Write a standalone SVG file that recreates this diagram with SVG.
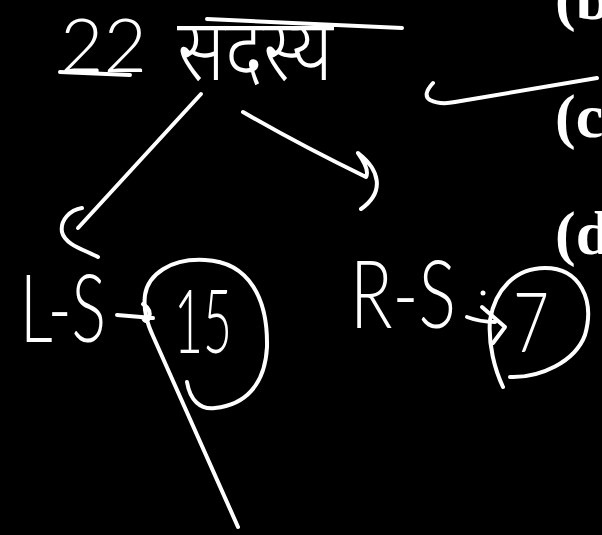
<svg xmlns="http://www.w3.org/2000/svg" width="602" height="535" viewBox="0 0 602 535">
<style>
.ink{fill:none;stroke:#fff;stroke-width:4;stroke-linecap:round;stroke-linejoin:round}
.hw{fill:#fff;font-family:"Lato","Open Sans","DejaVu Sans",sans-serif;font-weight:300}
.dv{fill:#fff;font-family:"Noto Sans Devanagari","Noto Sans","Lato",sans-serif;font-weight:300}
.pr{fill:#fff;font-family:"Liberation Serif","Times New Roman",serif;font-weight:bold;font-size:62px}
</style>
<rect width="602" height="535" fill="#000"/>
<g id="printed">
<text class="pr" x="555" y="19">(b</text>
<text class="pr" x="555" y="137">(c</text>
<text class="pr" x="555" y="254">(d</text>
</g>
<g id="root">
<text class="hw" x="60" y="72" font-size="74" textLength="87" lengthAdjust="spacingAndGlyphs">22</text>
<text class="dv" x="177" y="80" font-size="86" textLength="156" lengthAdjust="spacingAndGlyphs">सदस्य</text>
<path class="ink" d="M60,72 L130,75"/>
<path class="ink" d="M207,19 L402,28"/>
</g>
<g id="left">
<text class="hw" x="20" y="342" font-size="94" textLength="86" lengthAdjust="spacingAndGlyphs">L-S</text>
<text class="hw" x="174" y="353" font-size="88" textLength="58" lengthAdjust="spacingAndGlyphs">15</text>
<path class="ink" d="M187,382 C190,400 200,410 215,408 C245,405 265,385 267,347 C268,300 250,262 205,260 C170,258 148,275 145,295 C143,312 148,325 153,336 L238,527"/>
</g>
<g id="right">
<text class="hw" x="350" y="328" font-size="95" textLength="106" lengthAdjust="spacingAndGlyphs">R-S</text>
<text class="hw" x="513" y="352" font-size="82" textLength="36" lengthAdjust="spacingAndGlyphs">7</text>
<path class="ink" d="M510,377 C540,378 575,362 585,335 C595,300 580,268 545,268 C515,268 495,290 490,320 C488,345 495,370 503,387"/>
</g>
<g id="connectors">
<path class="ink" d="M201,94 L78,228"/>
<path class="ink" d="M82,208 C70,210 60,220 62,232 C65,245 85,250 98,257"/>
<path class="ink" d="M243,112 Q300,145 366,177 Q370,170 358,153 C380,170 385,192 361,209"/>
<path class="ink" d="M433,83 Q422,95 430,100 Q440,105 455,102 L597,78"/>
<path class="ink" d="M117,315 L153,318 M143,304 Q152,310 149,318 Q146,324 143,318"/>
<circle cx="483" cy="293" r="2.5" fill="#fff"/>
<path class="ink" d="M467,317 Q480,322 495,322 M482,307 L505,327 L493,343"/>
</g>
</svg>
